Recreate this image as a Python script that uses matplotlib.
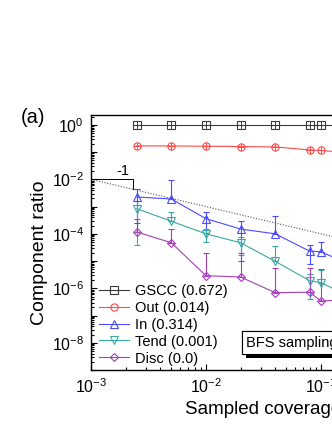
import numpy as np
import matplotlib
matplotlib.use("Agg")
import matplotlib.pyplot as plt
from matplotlib import ticker
import matplotlib.patheffects as pe

plt.rcParams["font.family"] = ["Liberation Sans", "DejaVu Sans"]
plt.rcParams["mathtext.fontset"] = "custom"
plt.rcParams["mathtext.rm"] = "Liberation Sans"
plt.rcParams["mathtext.it"] = "Liberation Sans:italic"

# ── data ──────────────────────────────────────────────────────────────────────
coverage = [0.0025, 0.005, 0.01, 0.02, 0.04, 0.08, 0.1, 0.2]

gscc = [0.95, 0.95, 0.95, 0.95, 0.95, 0.95, 0.95, 0.95]
out = [0.17, 0.168, 0.165, 0.16, 0.155, 0.12, 0.115, 0.09]

in_vals = [2.25e-3, 1.9e-3, 3.6e-4, 1.5e-4, 1.0e-4, 2.3e-5, 2.2e-5, 6e-6]
in_err = [2.0e-3, 7.8e-3, 2.5e-4, 1.4e-4, 3.4e-4, 1.5e-5, 2.7e-5, 4e-6]

tend = [8.4e-4, 2.9e-4, 1.0e-4, 4.7e-5, 9.8e-6, 1.9e-6, 1.6e-6, 4e-7]
tend_err = [8.0e-4, 3.2e-4, 5e-5, 3e-5, 2.5e-5, 1.5e-6, 3e-6, 3e-7]

disc = [1.17e-4, 4.7e-5, 2.9e-6, 2.6e-6, 6.9e-7, 7.2e-7, 3.4e-7, 4e-7]
disc_err = [2.4e-4, 1.0e-4, 1.7e-5, 1.7e-5, 4.9e-6, 4.9e-6, 4.7e-6, 3e-7]

labels = ["GSCC (0.672)", "Out (0.014)", "In (0.314)", "Tend (0.001)", "Disc (0.0)"]
slope_label = "-1"
box_label = "BFS sampling"

# ── figure (axes run past the right edge, as in the cropped reference) ────────
fig = plt.figure(figsize=(3.32, 4.30), dpi=100)
ax = fig.add_axes([0.274, 0.1395, 1.039, 0.593])
ax.set_xscale("log")
ax.set_yscale("log")

x = np.array(coverage)
styles = [
    (gscc, None, "#3a3a3a", "s"),
    (out, None, "#ff4a4a", "o"),
    (in_vals, in_err, "#4a4aff", "^"),
    (tend, tend_err, "#36aaa2", "v"),
    (disc, disc_err, "#a53cb8", "D"),
]
handles = []
for vals, err, c, m in styles:
    v = np.array(vals)
    ms = 4.4 if m == "D" else 5.2
    h, = ax.plot(x, v, color=c, lw=0.8, marker=m, ms=ms, mfc="none",
                 mec=c, mew=0.8, zorder=3)
    handles.append(h)
    if err is None:
        # tiny error bars show as a cross inside the marker
        ax.plot(x, v, ls="none", marker="+", ms=ms, mec=c, mew=0.7, zorder=3)
    else:
        e = np.array(err)
        lo = np.where(v - e > 0, e, 0.0)
        ax.errorbar(x, v, yerr=[lo, e], fmt="none", ecolor=c, elinewidth=0.8,
                    capsize=2.2, capthick=0.8, zorder=2)

# slope -1 guide
gx = np.array([1e-3, 1.0])
ax.plot(gx, 1e-5 / gx, ls=(0, (1, 1.5)), color="#555555", lw=0.8, zorder=1)
bx = 2.3e-3
ax.plot([1e-3, bx, bx], [1e-2, 1e-2, 1e-5 / bx], color="black", lw=0.7)
ax.text(1.9e-3, 1.15e-2, slope_label, fontsize=10.5, ha="center", va="bottom")

ax.set_xlim(1e-3, 1.0)
ax.set_ylim(1e-9, 2.3)

ax.xaxis.set_major_locator(ticker.LogLocator(base=10, numticks=10))
ax.xaxis.set_minor_locator(ticker.LogLocator(base=10, subs=np.arange(2, 10), numticks=20))
ax.xaxis.set_major_formatter(ticker.LogFormatterMathtext())
ax.yaxis.set_major_locator(ticker.LogLocator(base=10, numticks=20))
ax.yaxis.set_minor_locator(ticker.LogLocator(base=10, subs=np.arange(2, 10), numticks=20))
ax.yaxis.set_major_formatter(ticker.FuncFormatter(
    lambda v, p: "$10^{%d}$" % round(np.log10(v)) if round(np.log10(v)) % 2 == 0 else ""))
ax.yaxis.set_minor_formatter(ticker.NullFormatter())
ax.xaxis.set_minor_formatter(ticker.NullFormatter())

ax.tick_params(which="both", direction="in", labelsize=11.5, width=0.8)
ax.tick_params(which="major", length=4.5, pad=5)
ax.tick_params(which="minor", length=2.5)
for s in ax.spines.values():
    s.set_linewidth(1.0)

ax.set_xlabel("Sampled coverage", fontsize=13.5, labelpad=4)
ax.set_ylabel("Component ratio", fontsize=14)
ax.yaxis.set_label_coords(-0.125, 0.46)
fig.text(0.10, 0.726, "(a)", fontsize=14.5, ha="center", va="center")

leg = ax.legend(handles, labels, loc="lower left", bbox_to_anchor=(0.297, 0.15),
                bbox_transform=fig.transFigure, frameon=False, fontsize=10.5,
                handlelength=2.1, handletextpad=0.4, labelspacing=0.2,
                borderpad=0, borderaxespad=0)

t = ax.text(0.0225, 1e-8, box_label, fontsize=10.5, ha="left", va="center",
            bbox=dict(boxstyle="square,pad=0.3", fc="white", ec="black", lw=0.8))
t.get_bbox_patch().set_path_effects([
    pe.withSimplePatchShadow(offset=(3, -3), shadow_rgbFace="black", alpha=1),
    pe.Normal()])

fig.savefig("out.png", dpi=100)
